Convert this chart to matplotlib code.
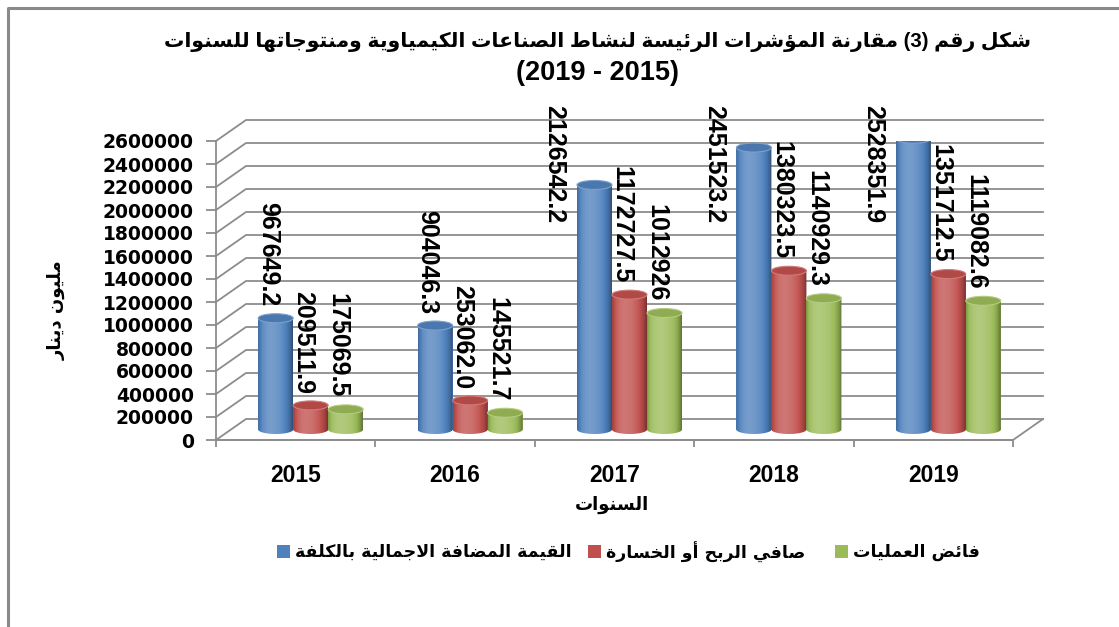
import re
import numpy as np
import matplotlib
matplotlib.use('Agg')
import matplotlib.pyplot as plt
from matplotlib.patches import Ellipse, PathPatch, Rectangle
from matplotlib.path import Path
from matplotlib.lines import Line2D
from matplotlib.colors import to_rgb

# ---- data -------------------------------------------------------------
years = ['2015', '2016', '2017', '2018', '2019']
value_added = [967649.2, 904046.3, 2126542.2, 2451523.2, 2528351.9]
net_profit = [209511.9, 253062.0, 1172727.5, 1380323.5, 1351712.5]
op_surplus = [175069.5, 145521.7, 1012926.0, 1140929.3, 1119082.6]
value_labels = [
    ['967649.2', '904046.3', '2126542.2', '2451523.2', '2528351.9'],
    ['209511.9', '253062.0', '1172727.5', '1380323.5', '1351712.5'],
    ['175069.5', '145521.7', '1012926', '1140929.3', '1119082.6'],
]
series_names = ['القيمة المضافة الاجمالية بالكلفة',
                'صافي الربح أو الخسارة',
                'فائض العمليات']
series_colors = ['#4F81BD', '#C0504D', '#9BBB59']
title_1 = 'شكل رقم (3) مقارنة المؤشرات الرئيسة لنشاط الصناعات الكيمياوية ومنتوجاتها للسنوات'
title_2 = '(2015 - 2019)'
y_title = 'مليون دينار'
x_title = 'السنوات'
y_ticks = list(range(0, 2600001, 200000))

# ---- minimal arabic shaping (no bidi lib available) -------------------
AR_FORMS = {
    'ا': ('\ufe8d', '\ufe8e', None, None),
    'أ': ('\ufe83', '\ufe84', None, None),
    'ؤ': ('\ufe85', '\ufe86', None, None),
    'ئ': ('\ufe89', '\ufe8a', '\ufe8b', '\ufe8c'),
    'ب': ('\ufe8f', '\ufe90', '\ufe91', '\ufe92'),
    'ة': ('\ufe93', '\ufe94', None, None),
    'ت': ('\ufe95', '\ufe96', '\ufe97', '\ufe98'),
    'ج': ('\ufe9d', '\ufe9e', '\ufe9f', '\ufea0'),
    'ح': ('\ufea1', '\ufea2', '\ufea3', '\ufea4'),
    'خ': ('\ufea5', '\ufea6', '\ufea7', '\ufea8'),
    'د': ('\ufea9', '\ufeaa', None, None),
    'ر': ('\ufead', '\ufeae', None, None),
    'س': ('\ufeb1', '\ufeb2', '\ufeb3', '\ufeb4'),
    'ش': ('\ufeb5', '\ufeb6', '\ufeb7', '\ufeb8'),
    'ص': ('\ufeb9', '\ufeba', '\ufebb', '\ufebc'),
    'ض': ('\ufebd', '\ufebe', '\ufebf', '\ufec0'),
    'ط': ('\ufec1', '\ufec2', '\ufec3', '\ufec4'),
    'ع': ('\ufec9', '\ufeca', '\ufecb', '\ufecc'),
    'ف': ('\ufed1', '\ufed2', '\ufed3', '\ufed4'),
    'ق': ('\ufed5', '\ufed6', '\ufed7', '\ufed8'),
    'ك': ('\ufed9', '\ufeda', '\ufedb', '\ufedc'),
    'ل': ('\ufedd', '\ufede', '\ufedf', '\ufee0'),
    'م': ('\ufee1', '\ufee2', '\ufee3', '\ufee4'),
    'ن': ('\ufee5', '\ufee6', '\ufee7', '\ufee8'),
    'ه': ('\ufee9', '\ufeea', '\ufeeb', '\ufeec'),
    'و': ('\ufeed', '\ufeee', None, None),
    'ي': ('\ufef1', '\ufef2', '\ufef3', '\ufef4'),
}
LAM_ALEF = {'ا': ('\ufefb', '\ufefc'), 'أ': ('\ufef7', '\ufef8')}


def joins_next(c):
    return c in AR_FORMS and AR_FORMS[c][2] is not None


def ar(text):
    out = []
    i = 0
    while i < len(text):
        c = text[i]
        if c not in AR_FORMS:
            out.append(c)
            i += 1
            continue
        p = i > 0 and joins_next(text[i - 1])
        if c == 'ل' and i + 1 < len(text) and text[i + 1] in LAM_ALEF:
            out.append(LAM_ALEF[text[i + 1]][1 if p else 0])
            i += 2
            continue
        q = joins_next(c) and i + 1 < len(text) and text[i + 1] in AR_FORMS
        iso, fin, ini, med = AR_FORMS[c]
        out.append(med if (p and q) else fin if p else ini if q else iso)
        i += 1
    s = ''.join(out)[::-1]
    s = re.sub(r'[0-9]+', lambda m: m.group(0)[::-1], s)
    return s.translate(str.maketrans('()', ')('))


# ---- figure -----------------------------------------------------------
W, H = 1119, 627
fig = plt.figure(figsize=(W / 100, H / 100), dpi=100)
fig.patch.set_facecolor('white')

ax_l, ax_r, ax_b, ax_t = 216, 1013, 440, 141   # pixel frame of the front plane
ax = fig.add_axes([ax_l / W, 1 - ax_b / H, (ax_r - ax_l) / W, (ax_b - ax_t) / H])
n = len(years)
ymax = y_ticks[-1]
ax.set_xlim(-0.5, n - 0.5)
ax.set_ylim(0, ymax)

px_x = n / (ax_r - ax_l)          # data units per pixel
px_y = ymax / (ax_b - ax_t)
depth_x, depth_y = 30 * px_x, 21 * px_y
grid_c = '#8c8c8c'

# back wall + side wall grid
for v in y_ticks:
    ax.plot([-0.5, -0.5 + depth_x, n - 0.5 + depth_x], [v, v + depth_y, v + depth_y],
            color=grid_c, lw=1.3, clip_on=False, zorder=1)
# floor
ax.plot([-0.5, n - 0.5, n - 0.5 + depth_x], [0, 0, depth_y], color=grid_c, lw=1.3,
        clip_on=False, zorder=1)

for s in ['top', 'right']:
    ax.spines[s].set_visible(False)
ax.spines['left'].set_color(grid_c)
ax.spines['bottom'].set_color(grid_c)
ax.spines['left'].set_linewidth(1.3)
ax.spines['bottom'].set_linewidth(1.3)
ax.set_yticks(y_ticks)
ax.set_yticklabels([str(v) for v in y_ticks], fontfamily='DejaVu Sans',
                   fontweight='bold', fontsize=13.5)
ax.tick_params(axis='y', length=7, width=1.3, color=grid_c, pad=9)
ax.set_xticks(np.arange(n))
ax.set_xticklabels(years, fontfamily='Liberation Sans', fontweight='bold', fontsize=16.5)
ax.set_xticks(np.arange(n + 1) - 0.5, minor=True)
ax.tick_params(axis='x', which='major', length=0, pad=17)
ax.tick_params(axis='x', which='minor', length=5, width=1.3, color=grid_c)
ax.set_facecolor('none')

# cylinders
series = [value_added, net_profit, op_surplus]
bw = 35 * px_x
eh = 9 * px_y
base = depth_y / 2
t = np.linspace(0, 1, 64)
k = 0.22 * np.cos(np.pi * (t - 0.35)) - 0.28 * np.abs(2 * t - 1) ** 4


def shade(col, kk):
    c = np.array(to_rgb(col))
    kk = kk[:, None]
    return np.where(kk > 0, c + (1 - c) * kk, c * (1 + kk))


label_top_limit = ax_t - 36   # pixels from top of figure
for j, vals in enumerate(series):
    col = series_colors[j]
    xs = np.arange(n) + (j - 1) * bw + depth_x / 2
    ax.bar(xs, vals, width=bw, bottom=base, color=col, zorder=3)
    grad = shade(col, k)[None, :, :]
    for i, (xc, v) in enumerate(zip(xs, vals)):
        th = np.linspace(np.pi, 2 * np.pi, 40)
        verts = [(xc - bw / 2, base + v)] + \
            list(zip(xc + bw / 2 * np.cos(th), base + eh / 2 * np.sin(th))) + \
            [(xc + bw / 2, base + v)]
        body = PathPatch(Path(verts + [verts[0]], closed=True), transform=ax.transData)
        im = ax.imshow(grad, extent=[xc - bw / 2, xc + bw / 2, base - eh / 2, base + v],
                       aspect='auto', zorder=4, interpolation='bilinear')
        im.set_clip_path(body)
        cap = shade(col, np.array([-0.08]))[0]
        rim = shade(col, np.array([0.25]))[0]
        ax.add_patch(Ellipse((xc, base + v), bw, eh, facecolor=cap, edgecolor=rim,
                             lw=0.8, zorder=5))

        # data label, written top-to-bottom above the bar
        txt = value_labels[j][i]
        top_px = ax_b - (v / px_y) - 22 - 13.1 * len(txt)
        if top_px < label_top_limit:
            ax.text(xc - depth_x / 2 - 25 * px_x, ymax + (ax_t - label_top_limit) * px_y, txt,
                    rotation=270, ha='center', va='top', fontsize=18,
                    fontfamily='Liberation Sans', fontweight='bold', zorder=6,
                    clip_on=False)
        else:
            ax.text(xc - depth_x / 2 + 7 * px_x, v + 22 * px_y, txt,
                    rotation=270, ha='center', va='bottom', fontsize=18,
                    fontfamily='Liberation Sans', fontweight='bold', zorder=6,
                    clip_on=False)

ax.set_xlim(-0.5, n - 0.5)
ax.set_ylim(0, ymax)
ax.set_aspect('auto')

# titles
fig.text(597 / W, 1 - 42 / H, ar(title_1), ha='center', va='center', fontsize=14.7,
         fontweight='bold', family=['Liberation Sans', 'DejaVu Sans'])
fig.text(597 / W, 1 - 73 / H, ar(title_2), ha='center', va='center', fontsize=19.5,
         fontweight='bold', family=['Liberation Sans', 'DejaVu Sans'])
fig.text(57 / W, 1 - 310 / H, ar(y_title), rotation=90, ha='center', va='center',
         fontsize=13, fontweight='bold', family='DejaVu Sans')
fig.text(612 / W, 1 - 505 / H, ar(x_title), ha='center', va='center', fontsize=13,
         fontweight='bold', family='DejaVu Sans')

# legend
leg_sq = [277, 588, 835]
for x0, name, col in zip(leg_sq, series_names, series_colors):
    fig.add_artist(Rectangle((x0 / W, 1 - 558 / H), 13 / W, 13 / H, facecolor=col,
                             edgecolor='none', transform=fig.transFigure))
    fig.text((x0 + 18) / W, 1 - 552 / H, ar(name), ha='left', va='center', fontsize=12.5,
             fontweight='bold', family='DejaVu Sans')

# outer frame (cropped at right and bottom)
fig.add_artist(Line2D([8 / W, 8 / W, 1], [0, 1 - 8 / H, 1 - 8 / H], color='#8a8a8a',
                      lw=2.2, transform=fig.transFigure))

fig.savefig('out.png', dpi=100)
